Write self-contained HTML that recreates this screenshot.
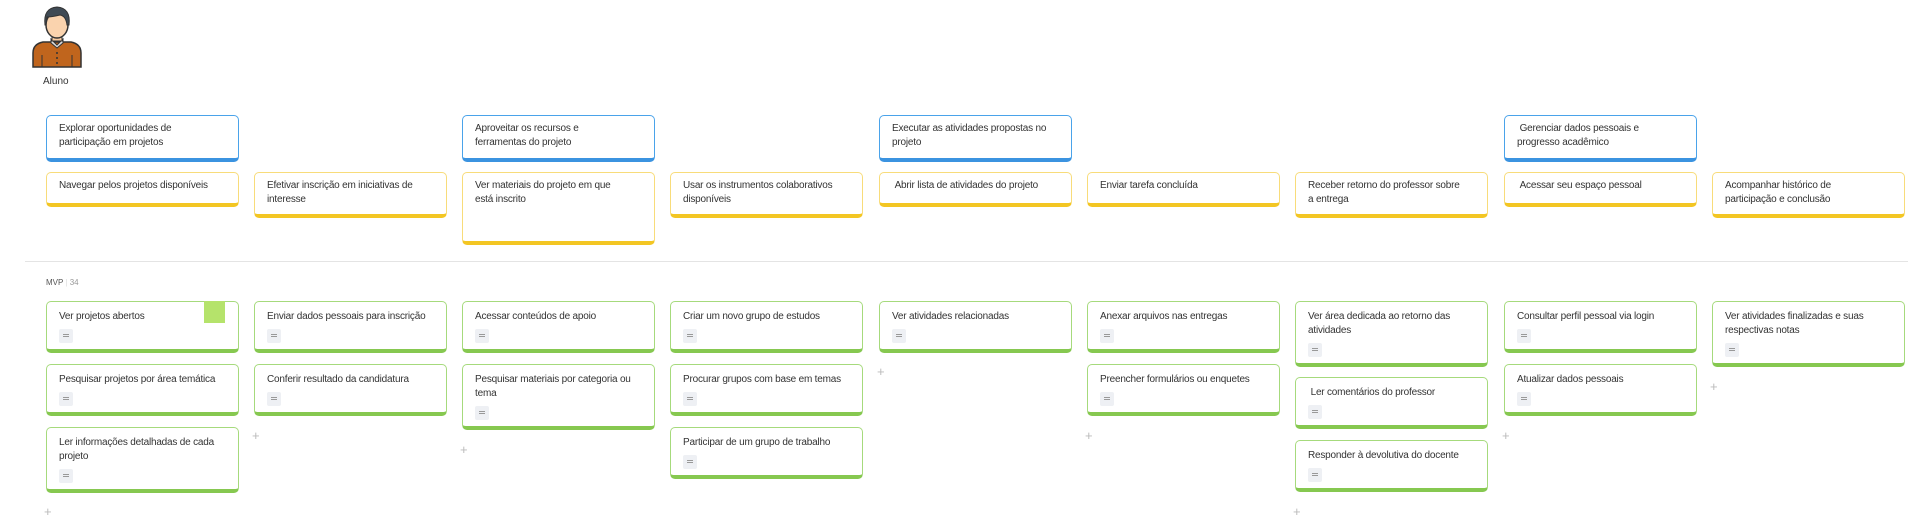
<!DOCTYPE html>
<html><head><meta charset="utf-8"><style>
body{margin:0;width:1908px;height:523px;background:#fff;position:relative;overflow:hidden;font-family:"Liberation Sans","DejaVu Sans",sans-serif;}
.c{position:absolute;width:193px;box-sizing:border-box;background:#fff;border-radius:5px;font-size:10px;letter-spacing:-0.2px;line-height:14px;color:#333;padding:6px 4px 0 12px;white-space:nowrap;}
.b{border:1.5px solid #4aa3ea;border-bottom:4px solid #3b93e0;}
.y{border:1.5px solid #f8dc7a;border-bottom:4px solid #f3c623;}
.g{border:1.5px solid #a6da7c;border-bottom:4px solid #86c850;padding-top:8px;}
.i{width:14px;height:14px;background:#eef0f4;border-radius:2px;margin-top:5px;position:relative;}
.i:before{content:"";position:absolute;left:4px;top:5px;width:6px;height:1px;background:#999;box-shadow:0 2px 0 #999;}
.p{position:absolute;color:#bbb;font-size:13px;}
</style></head><body>
<svg style="position:absolute;left:30px;top:3px" width="54" height="66" viewBox="0 0 54 66">
<path d="M3 50 Q3 41 13 39 L41 39 Q51 41 51 50 L51 64 L3 64Z" fill="#c0651d" stroke="#333" stroke-width="1.5"/>
<path d="M21 36 L27 42 L33 36 L33 40 L27 45 L21 40Z" fill="#ddd" stroke="#333" stroke-width="1"/>
<rect x="22" y="28" width="10" height="10" fill="#f5c9a0" stroke="#333" stroke-width="1"/>
<ellipse cx="27" cy="22" rx="11" ry="13" fill="#fad3ae" stroke="#333" stroke-width="1.5"/>
<path d="M15 22 Q13 5 27 4 Q41 5 39 22 L37 22 Q36 13 30 12 Q22 14 17 14 L16 22Z" fill="#3f4a54" stroke="#333" stroke-width="1"/>
<circle cx="27" cy="50" r="1" fill="#333"/><circle cx="27" cy="55" r="1" fill="#333"/><circle cx="27" cy="60" r="1" fill="#333"/>
<line x1="12" y1="52" x2="12" y2="64" stroke="#333"/><line x1="42" y1="52" x2="42" y2="64" stroke="#333"/>
</svg>
<div style="position:absolute;left:43px;top:76px;font-size:10px;color:#333">Aluno</div>

<div class="c b" style="left:46px;top:115px;height:47px">Explorar oportunidades de<br>participação em projetos</div>
<div class="c b" style="left:462px;top:115px;height:47px">Aproveitar os recursos e<br>ferramentas do projeto</div>
<div class="c b" style="left:879px;top:115px;height:47px">Executar as atividades propostas no<br>projeto</div>
<div class="c b" style="left:1504px;top:115px;height:47px">&nbsp;Gerenciar dados pessoais e<br>progresso acadêmico</div>

<div class="c y" style="left:46px;top:172px;height:35px">Navegar pelos projetos disponíveis</div>
<div class="c y" style="left:254px;top:172px;height:46px">Efetivar inscrição em iniciativas de<br>interesse</div>
<div class="c y" style="left:462px;top:172px;height:73px">Ver materiais do projeto em que<br>está inscrito</div>
<div class="c y" style="left:670px;top:172px;height:46px">Usar os instrumentos colaborativos<br>disponíveis</div>
<div class="c y" style="left:879px;top:172px;height:35px">&nbsp;Abrir lista de atividades do projeto</div>
<div class="c y" style="left:1087px;top:172px;height:35px">Enviar tarefa concluída</div>
<div class="c y" style="left:1295px;top:172px;height:46px">Receber retorno do professor sobre<br>a entrega</div>
<div class="c y" style="left:1504px;top:172px;height:35px">&nbsp;Acessar seu espaço pessoal</div>
<div class="c y" style="left:1712px;top:172px;height:46px">Acompanhar histórico de<br>participação e conclusão</div>

<div style="position:absolute;left:25px;top:261px;width:1883px;height:1px;background:#e4e4e4"></div>
<div style="position:absolute;left:46px;top:278px;font-size:8px;color:#555">MVP <span style="color:#ddd">|</span> <span style="color:#999">34</span></div>

<div class="c g" style="left:46px;top:301px;height:52px">Ver projetos abertos<div class="i"></div></div>
<div style="position:absolute;left:204px;top:301px;width:21px;height:22px;background:#b5e36b"></div>
<div class="c g" style="left:46px;top:364px;height:52px">Pesquisar projetos por área temática<div class="i"></div></div>
<div class="c g" style="left:46px;top:427px;height:66px">Ler informações detalhadas de cada<br>projeto<div class="i"></div></div>
<div class="p" style="left:44px;top:504px">+</div>

<div class="c g" style="left:254px;top:301px;height:52px">Enviar dados pessoais para inscrição<div class="i"></div></div>
<div class="c g" style="left:254px;top:364px;height:52px">Conferir resultado da candidatura<div class="i"></div></div>
<div class="p" style="left:252px;top:428px">+</div>

<div class="c g" style="left:462px;top:301px;height:52px">Acessar conteúdos de apoio<div class="i"></div></div>
<div class="c g" style="left:462px;top:364px;height:66px">Pesquisar materiais por categoria ou<br>tema<div class="i"></div></div>
<div class="p" style="left:460px;top:442px">+</div>

<div class="c g" style="left:670px;top:301px;height:52px">Criar um novo grupo de estudos<div class="i"></div></div>
<div class="c g" style="left:670px;top:364px;height:52px">Procurar grupos com base em temas<div class="i"></div></div>
<div class="c g" style="left:670px;top:427px;height:52px">Participar de um grupo de trabalho<div class="i"></div></div>

<div class="c g" style="left:879px;top:301px;height:52px">Ver atividades relacionadas<div class="i"></div></div>
<div class="p" style="left:877px;top:364px">+</div>

<div class="c g" style="left:1087px;top:301px;height:52px">Anexar arquivos nas entregas<div class="i"></div></div>
<div class="c g" style="left:1087px;top:364px;height:52px">Preencher formulários ou enquetes<div class="i"></div></div>
<div class="p" style="left:1085px;top:428px">+</div>

<div class="c g" style="left:1295px;top:301px;height:66px">Ver área dedicada ao retorno das<br>atividades<div class="i"></div></div>
<div class="c g" style="left:1295px;top:377px;height:52px">&nbsp;Ler comentários do professor<div class="i"></div></div>
<div class="c g" style="left:1295px;top:440px;height:52px">Responder à devolutiva do docente<div class="i"></div></div>
<div class="p" style="left:1293px;top:504px">+</div>

<div class="c g" style="left:1504px;top:301px;height:52px">Consultar perfil pessoal via login<div class="i"></div></div>
<div class="c g" style="left:1504px;top:364px;height:52px">Atualizar dados pessoais<div class="i"></div></div>
<div class="p" style="left:1502px;top:428px">+</div>

<div class="c g" style="left:1712px;top:301px;height:66px">Ver atividades finalizadas e suas<br>respectivas notas<div class="i"></div></div>
<div class="p" style="left:1710px;top:379px">+</div>
</body></html>
